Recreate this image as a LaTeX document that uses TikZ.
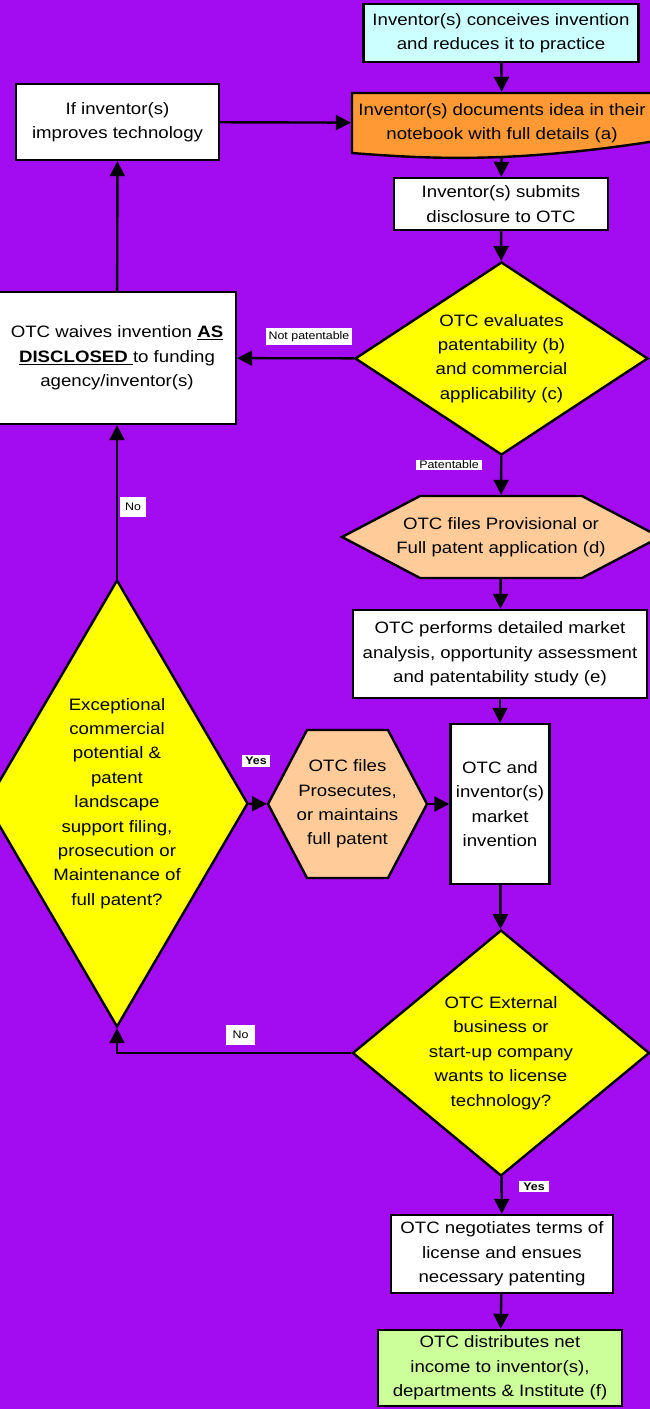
\documentclass[tikz,border=0pt]{standalone}
\usepackage{fontspec}
\setmainfont{Liberation Sans}[FakeStretch=1.13]
\usepackage{tikz}
\usetikzlibrary{arrows.meta,shapes.geometric,positioning}
\definecolor{violeta}{RGB}{163,12,240}
\definecolor{celeste}{RGB}{204,255,255}
\definecolor{naranja}{RGB}{255,153,51}
\definecolor{amarillo}{RGB}{255,255,0}
\definecolor{melocoton}{RGB}{255,204,153}
\definecolor{verdeclaro}{RGB}{204,255,153}

\begin{document}
\begin{tikzpicture}[x=1pt, y=-1pt, line width=2.4pt, >={Triangle[length=15pt,width=15pt]},
    font=\fontsize{16.5}{24.4}\selectfont]

    % Estilos para los nodos
    \tikzstyle{caja}=[rectangle, draw, fill=white, align=center, inner sep=0pt]
    \tikzstyle{rombo}=[diamond, draw, fill=amarillo, align=center, inner sep=0pt]
    \tikzstyle{hueco}=[rectangle, align=center, inner sep=0pt]
    \tikzstyle{etiqueta}=[fill=white, font=\fontsize{11}{12}\selectfont, inner xsep=3pt, inner ysep=3.5pt]

    % Fondo
    \useasboundingbox (0,0) rectangle (650,1409);
    \clip (0,0) rectangle (650,1409);
    \fill[violeta] (0,0) rectangle (650,1409);

    % Formas especiales (documento y hexagonos)
    \filldraw[fill=naranja] (656,93) -- (352,93) -- (352,153)
        .. controls (440,160) and (520,162) .. (656,141) -- cycle;
    \filldraw[fill=melocoton] (342,537) -- (420,496) -- (582,496) -- (660,537) -- (582,578) -- (420,578) -- cycle;
    \filldraw[fill=melocoton] (268,804) -- (307,730) -- (388,730) -- (427,804) -- (388,878) -- (307,878) -- cycle;

    % Definicion de los nodos
    \node[caja, fill=celeste, minimum width=275, minimum height=58] (concibe) at (501,33)
        {Inventor(s) conceives invention\\and reduces it to practice};
    \node[hueco, minimum width=300, minimum height=60] (documenta) at (502,123)
        {Inventor(s) documents idea in their\\notebook with full details (a)};
    \node[caja, minimum width=214, minimum height=52] (envia) at (501,204)
        {Inventor(s) submits\\disclosure to OTC};
    \node[rombo, shape aspect=1.52, minimum width=293, minimum height=193] (evalua) at (501.5,358.5)
        {OTC evaluates\\patentability (b)\\and commercial\\applicability (c)};
    \node[caja, minimum width=203, minimum height=76] (mejora) at (117.5,122)
        {If inventor(s)\\improves technology};
    \node[caja, minimum width=238, minimum height=132] (renuncia) at (117,358)
        {OTC waives invention \underline{\textbf{AS}}\\\underline{\textbf{DISCLOSED\ }}to funding\\agency/inventor(s)};
    \node[hueco, minimum width=318, minimum height=82] (provisional) at (501,537)
        {OTC files Provisional or\\Full patent application (d)};
    \node[caja, minimum width=294, minimum height=88] (estudia) at (500,654)
        {OTC performs detailed market\\analysis, opportunity assessment\\and patentability study (e)};
    \node[rombo, shape aspect=0.586, minimum width=262, minimum height=447] (excepcional) at (117,803.5)
        {Exceptional\\commercial\\potential \&\\patent\\landscape\\support filing,\\prosecution or\\Maintenance of\\full patent?};
    \node[hueco, minimum width=159, minimum height=148] (prosigue) at (347.5,804)
        {OTC files\\Prosecutes,\\or maintains\\full patent};
    \node[caja, minimum width=99, minimum height=160] (mercado) at (500,804)
        {OTC and\\inventor(s)\\market\\invention};
    \node[rombo, shape aspect=1.21, minimum width=297, minimum height=246] (externa) at (501,1053)
        {OTC External\\business or\\start-up company\\wants to license\\technology?};
    \node[caja, minimum width=222, minimum height=78] (negocia) at (502,1254)
        {OTC negotiates terms of\\license and ensues\\necessary patenting};
    \node[caja, fill=verdeclaro, minimum width=244, minimum height=76] (distribuye) at (500,1368)
        {OTC distributes net\\income to inventor(s),\\departments \& Institute (f)};

    % Flechas
    \draw[->] (concibe) -- (documenta);
    \draw[->, shorten <=3pt] (documenta) -- (envia);
    \draw[->] (envia) -- (evalua);
    \draw[->] (evalua) -- (renuncia);
    \draw[->] (evalua) -- (provisional);
    \draw[->] (renuncia) -- (mejora);
    \draw[->] (mejora) -- (documenta);
    \draw[->] (provisional) -- (estudia);
    \draw[->] (estudia) -- (mercado);
    \draw[->] (excepcional) -- (prosigue);
    \draw[->] (prosigue) -- (mercado);
    \draw[->] (mercado) -- (externa);
    \draw[->] (excepcional) -- (renuncia);
    \draw[->] (externa.west) -| (excepcional.south);
    \draw[->] (externa) -- (negocia);
    \draw[->] (negocia) -- (distribuye);

    % Etiquetas de las flechas
    \node[etiqueta] (nopat) at (309,336.5) {Not patentable};
    \node[etiqueta, inner ysep=1pt] (pat) at (449,465) {Patentable};
    \node[etiqueta, inner xsep=5pt, inner ysep=6pt] (noarriba) at (133,507) {No};
    \node[etiqueta, inner ysep=2.5pt] (simedio) at (256,761) {\textbf{Yes}};
    \node[etiqueta, inner xsep=7pt, inner ysep=6pt] (noabajo) at (240.5,1035) {No};
    \node[etiqueta, inner xsep=4pt, inner ysep=2pt] (siabajo) at (534,1186.5) {\textbf{Yes}};
\end{tikzpicture}
\end{document}
